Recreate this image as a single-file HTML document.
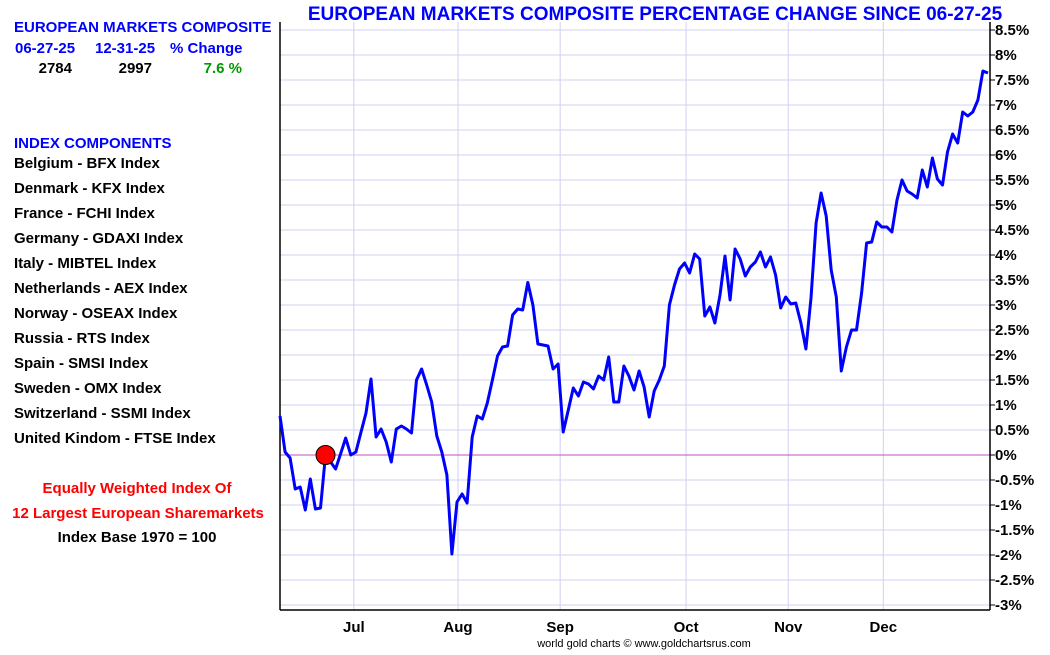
<!DOCTYPE html>
<html><head><meta charset="utf-8"><style>
body{margin:0;background:#fff;width:1050px;height:650px;overflow:hidden;font-family:"Liberation Sans",sans-serif}
svg text{font-family:"Liberation Sans",sans-serif;font-weight:bold}
</style></head><body>
<svg id="chart" width="1050" height="650">
<text x="655" y="20" font-size="19" fill="#0000ff" text-anchor="middle">EUROPEAN MARKETS COMPOSITE PERCENTAGE CHANGE SINCE 06-27-25</text>
<g font-size="15">
<text x="14" y="32" fill="#0000ff">EUROPEAN MARKETS COMPOSITE</text>
<text x="15" y="53" fill="#0000ff">06-27-25</text>
<text x="95" y="53" fill="#0000ff">12-31-25</text>
<text x="170" y="53" fill="#0000ff">% Change</text>
<text x="72" y="73" fill="#000" text-anchor="end">2784</text>
<text x="152" y="73" fill="#000" text-anchor="end">2997</text>
<text x="242" y="73" fill="#009900" text-anchor="end">7.6 %</text>
<text x="14" y="148" fill="#0000ff">INDEX COMPONENTS</text>
<text x="14" y="168">Belgium - BFX Index</text>
<text x="14" y="193">Denmark - KFX Index</text>
<text x="14" y="218">France - FCHI Index</text>
<text x="14" y="243">Germany - GDAXI Index</text>
<text x="14" y="268">Italy - MIBTEL Index</text>
<text x="14" y="293">Netherlands - AEX Index</text>
<text x="14" y="318">Norway - OSEAX Index</text>
<text x="14" y="343">Russia - RTS Index</text>
<text x="14" y="368">Spain - SMSI Index</text>
<text x="14" y="393">Sweden - OMX Index</text>
<text x="14" y="418">Switzerland - SSMI Index</text>
<text x="14" y="443">United Kindom - FTSE Index</text>
<text x="137" y="493" fill="#ff0000" text-anchor="middle">Equally Weighted Index Of</text>
<text x="138" y="518" fill="#ff0000" text-anchor="middle">12 Largest European Sharemarkets</text>
<text x="137" y="542" fill="#000" text-anchor="middle">Index Base 1970 = 100</text>
</g>
<g id="grid"></g>
<g id="axes"></g>
<g id="series"></g>
<text x="644" y="647" font-size="11" fill="#000" text-anchor="middle" style="font-weight:normal">world gold charts © www.goldchartsrus.com</text>
</svg>
<script>
const pctValues=[0.78,0.06,-0.06,-0.68,-0.64,-1.1,-0.48,-1.08,-1.06,0,-0.14,-0.28,0.03,0.34,0,0.06,0.45,0.84,1.52,0.36,0.52,0.26,-0.14,0.52,0.58,0.52,0.44,1.5,1.72,1.4,1.06,0.38,0.06,-0.4,-1.98,-0.94,-0.78,-0.96,0.36,0.78,0.72,1.04,1.5,1.98,2.16,2.18,2.8,2.92,2.9,3.45,3.0,2.22,2.2,2.18,1.72,1.82,0.46,0.9,1.34,1.18,1.46,1.42,1.32,1.58,1.5,1.96,1.06,1.06,1.78,1.58,1.3,1.68,1.36,0.76,1.28,1.5,1.78,3.0,3.4,3.72,3.84,3.64,4.02,3.92,2.78,2.96,2.64,3.2,3.98,3.1,4.12,3.92,3.58,3.76,3.86,4.06,3.76,3.96,3.6,2.94,3.16,3.02,3.04,2.64,2.12,3.14,4.64,5.24,4.78,3.7,3.16,1.68,2.16,2.5,2.5,3.24,4.24,4.26,4.66,4.56,4.56,4.46,5.1,5.5,5.28,5.22,5.14,5.7,5.36,5.94,5.52,5.4,6.06,6.42,6.24,6.86,6.78,6.86,7.1,7.68,7.64];
const monthLabels=["Jul","Aug","Sep","Oct","Nov","Dec"];
const monthStartIndex=[14.6,35.2,55.4,80.3,100.5,119.3];
const yTicks=[-3,-2.5,-2,-1.5,-1,-0.5,0,0.5,1,1.5,2,2.5,3,3.5,4,4.5,5,5.5,6,6.5,7,7.5,8,8.5];
const baseIndex=9;
const L=280,R=990,T=22,B=610;
const xs=i=>280+i*(988-280)/(pctValues.length-1);
const ys=v=>455-v*50;
const NS="http://www.w3.org/2000/svg";
function mk(tag,attrs,parent){const e=document.createElementNS(NS,tag);for(const k in attrs)e.setAttribute(k,attrs[k]);parent.appendChild(e);return e;}
const grid=document.getElementById('grid'),axes=document.getElementById('axes'),series=document.getElementById('series');
yTicks.forEach(t=>{
 const y=ys(t);
 if(t!==0){const g=mk('line',{x1:L,x2:R,y1:y,y2:y,stroke:'#d0d0f0','stroke-width':1},grid);
 
 }
 const tk=mk('line',{x1:R,x2:R+5,y1:y,y2:y,stroke:'#000'},axes);
 
 
 const tx=mk('text',{x:R+5,y:y+5,'font-size':15,fill:'#000'},axes);
 tx.textContent=t+'%';
 
 
});
monthLabels.forEach((m,i)=>{
 const x=xs(monthStartIndex[i]);
 const g=mk('line',{x1:x,x2:x,y1:T,y2:B,stroke:'#d0d0f0'},grid);
 
 
 const tx=mk('text',{x:x,y:632,'font-size':15,fill:'#000','text-anchor':'middle'},axes);
 tx.textContent=m;
 
 
});
const z=mk('line',{x1:L,x2:R,y1:ys(0),y2:ys(0),stroke:'#c050c0','stroke-width':1},grid);


const la=mk('line',{x1:L,x2:L,y1:T,y2:B,stroke:'#000','stroke-width':1.5},axes);


const ra=mk('line',{x1:R,x2:R,y1:T,y2:B,stroke:'#000','stroke-width':1.5},axes);


const ba=mk('line',{x1:L,x2:R,y1:B,y2:B,stroke:'#000','stroke-width':1.5},axes);


const pts=pctValues.map((v,i)=>xs(i).toFixed(1)+','+ys(v).toFixed(1)).join(' ');
const pl=mk('polyline',{points:pts,fill:'none',stroke:'#0000ff','stroke-width':3,'stroke-linejoin':'round'},series);


const c=mk('circle',{cx:xs(baseIndex),cy:ys(pctValues[baseIndex]),r:9.5,fill:'#ff0000',stroke:'#000','stroke-width':1},series);


</script>
</body></html>
